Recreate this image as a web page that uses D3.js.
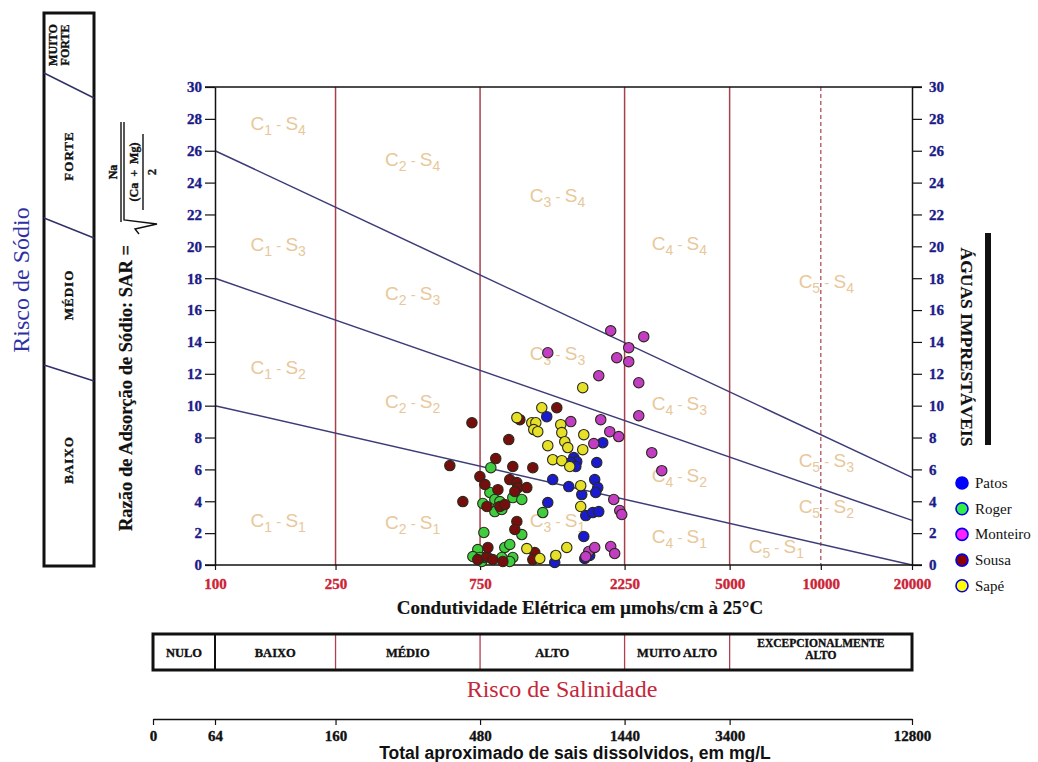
<!DOCTYPE html>
<html>
<head>
<meta charset="utf-8">
<script src="https://cdn.jsdelivr.net/npm/d3@7"></script>
<style>
  html, body { margin: 0; padding: 0; background: #fff; }
  svg { display: block; }
</style>
</head>
<body>
<svg id="chart" width="1038" height="762"></svg>
<script>
// ---- Axis ticks and class boundaries ----
const ecTicks = [100, 250, 750, 2250, 5000, 10000, 20000];       // µmhos/cm
const sarTicks = d3.range(0, 31, 2);
const ecClassBounds = [250, 750, 2250, 5000];                      // C1|C2|C3|C4|C5
const ecDashed = [10000];
const tdsTicks = [0, 64, 160, 480, 1440, 3400, 12800];             // mg/L
const salinityClasses = ["NULO", "BAIXO", "MÉDIO", "ALTO", "MUITO ALTO", "EXCEPCIONALMENTE ALTO"];
const sodiumClasses = ["BAIXO", "MÉDIO", "FORTE", "MUITO FORTE"];

// Sodium hazard boundaries: [EC, SAR] at both ends
const lineS1S2 = [[100, 10], [20000, 0]];
const lineS2S3 = [[100, 18], [20000, 2.8]];
const lineS3S4 = [[100, 26], [20000, 5.5]];

// Zone labels: [C index, S index, EC anchor, SAR anchor]
const zoneLabels = [
  ["1", "4", 131, 27.3], ["2", "4", 364, 25.05], ["3", "4", 1095, 22.8], ["4", "4", 2766, 19.78], ["5", "4", 8448, 17.4],
  ["1", "3", 131, 19.72], ["2", "3", 364, 16.65], ["3", "3", 1095, 12.88], ["4", "3", 2766, 9.75], ["5", "3", 8448, 6.18],
  ["1", "2", 131, 12.0], ["2", "2", 364, 9.87], ["4", "2", 2766, 5.24], ["5", "2", 8448, 3.29],
  ["1", "1", 131, 2.41], ["2", "1", 364, 2.23], ["3", "1", 1095, 2.41], ["4", "1", 2766, 1.41], ["5", "1", 5779, 0.78]
];

// ---- Samples: [EC µmhos/cm, SAR] ----
const patos = [
  [1245, 9.31], [1906, 7.68], [1529, 6.74], [1564, 6.49], [1495, 6.43], [1553, 6.18], [1821, 6.43],
  [1303, 5.36], [1472, 4.92], [1793, 5.36], [1835, 4.86], [1807, 4.55], [1625, 4.42], [1255, 3.92],
  [1675, 3.10], [1766, 3.29], [1849, 3.35], [1650, 1.79], [1662, 0.41], [1726, 0.60], [1323, 0.16]
];
const roger = [
  [814, 6.11], [808, 4.55], [839, 4.11], [872, 3.98], [859, 3.61], [839, 3.35], [885, 3.48], [962, 4.23],
  [1030, 4.11], [766, 3.86], [1208, 3.29], [1030, 1.91], [772, 2.04], [737, 0.97], [710, 0.53], [760, 0.22],
  [778, 0.47], [905, 1.10], [940, 1.29], [962, 0.47], [940, 0.22], [885, 0.47], [749, 0.47]
];
const monteiro = [
  [2025, 14.70], [2603, 14.33], [2322, 13.64], [1255, 13.32], [2120, 13.01], [2322, 12.76], [1849, 11.88],
  [2506, 11.44], [2506, 9.37], [1877, 9.12], [1495, 9.00], [2010, 8.37], [2152, 8.06], [1780, 7.62],
  [2766, 7.05], [2985, 5.92], [2072, 4.11], [2169, 3.42], [2202, 3.17], [1713, 0.85], [1793, 1.10],
  [2025, 1.16], [2087, 0.72], [1675, 0.53]
];
const sousa = [
  [705, 8.93], [1015, 9.12], [1344, 9.87], [933, 7.87], [596, 6.24], [845, 6.68], [962, 6.18], [1120, 6.11],
  [749, 5.55], [778, 5.05], [940, 5.36], [992, 5.17], [999, 4.86], [1070, 4.86], [977, 4.61], [859, 4.73],
  [658, 3.98], [790, 3.67], [872, 3.67], [905, 3.79], [992, 2.73], [977, 2.23], [737, 0.34], [790, 0.53],
  [826, 0.34], [892, 0.22], [1137, 0.78], [1120, 0.34], [796, 1.10]
];
const sape = [
  [1637, 11.13], [1199, 9.87], [992, 9.25], [1111, 8.93], [1146, 8.93], [1128, 8.50], [1163, 8.37],
  [1385, 8.81], [1396, 8.31], [1650, 8.18], [1255, 7.49], [1428, 7.74], [1461, 7.37], [1637, 7.24],
  [1303, 6.61], [1396, 6.55], [1483, 6.18], [1612, 4.98], [1612, 3.67], [1450, 1.10], [1334, 0.60],
  [1070, 1.03], [1181, 0.41]
];

const seriesNames = ["Patos", "Roger", "Monteiro", "Sousa", "Sapé"];
const seriesData = [patos, roger, monteiro, sousa, sape];
const pointFill = ["#1a1ad0", "#3fcc3f", "#c23cc4", "#760e0e", "#e6e028"];
const legendFill = ["#0000ff", "#33ee44", "#ff22ff", "#8b0000", "#ffff00"];

// ---- Layout ----
const SERIF = "'Liberation Serif', 'Times New Roman', serif";
const SANS = "'Liberation Sans', Arial, sans-serif";
const plot = { left: 215, right: 912, top: 87, bottom: 565 };

const svg = d3.select("#chart");
svg.append("rect").attr("width", 1038).attr("height", 762).attr("fill", "#fff");

const x = d3.scaleLog().domain([100, 20000]).range([plot.left, plot.right]);
const y = d3.scaleLinear().domain([0, 30]).range([plot.bottom, plot.top]);

// TDS scale pinned to the conductivity class boundaries
const tdsScale = d3.scaleLinear()
  .domain(tdsTicks)
  .range([153, x(100), x(250), x(750), x(2250), x(5000), x(20000)]);

// heavy serif text helper
const heavy = (sel, size, color) => sel
  .style("font-family", SERIF).style("font-weight", "bold").style("font-size", size)
  .attr("fill", color).attr("stroke", color).attr("stroke-width", 0.35);

// ---- Salinity class verticals ----
const g = svg.append("g");
g.selectAll("line.cb").data(ecClassBounds).join("line")
  .attr("x1", d => x(d)).attr("x2", d => x(d))
  .attr("y1", y(30)).attr("y2", y(0))
  .attr("stroke", "#a8404c").attr("stroke-width", 1.5);
g.selectAll("line.cd").data(ecDashed).join("line")
  .attr("x1", d => x(d)).attr("x2", d => x(d))
  .attr("y1", y(30)).attr("y2", y(0))
  .attr("stroke", "#a8404c").attr("stroke-width", 1.2)
  .attr("stroke-dasharray", "4,3");

// ---- Zone labels ----
zoneLabels.forEach(([c, s, ec, sar]) => {
  const t = g.append("text")
    .attr("x", x(ec)).attr("y", y(sar))
    .attr("fill", "#e8c89a")
    .style("font-family", SANS).style("font-size", "19px");
  t.append("tspan").text("C");
  t.append("tspan").attr("dy", 5).style("font-size", "14px").text(c);
  t.append("tspan").attr("dy", -5).style("font-size", "15px").text(" - ");
  t.append("tspan").text("S");
  t.append("tspan").attr("dy", 5).style("font-size", "14px").text(s);
});

// ---- Sodium hazard lines ----
const hazLine = d3.line().x(d => x(d[0])).y(d => y(d[1]));
[lineS1S2, lineS2S3, lineS3S4].forEach(l => {
  g.append("path").attr("d", hazLine(l))
    .attr("fill", "none").attr("stroke", "#3c3c78").attr("stroke-width", 1.5);
});

// ---- Frame lines ----
g.append("line").attr("x1", 205).attr("x2", 922).attr("y1", y(30)).attr("y2", y(30))
  .attr("stroke", "#111").attr("stroke-width", 1.5);
g.append("line").attr("x1", 205).attr("x2", 922).attr("y1", y(0)).attr("y2", y(0))
  .attr("stroke", "#111").attr("stroke-width", 1.5);

// ---- Axes ----
function styleAxis(sel, color, size) {
  sel.select(".domain").attr("stroke", "#111").attr("stroke-width", 1.5);
  sel.selectAll(".tick line").attr("stroke", "#111").attr("stroke-width", 1.2);
  sel.selectAll(".tick text").call(heavy, size, color);
}

const yLeft = svg.append("g").attr("transform", `translate(${plot.left},0)`)
  .call(d3.axisLeft(y).tickValues(sarTicks).tickSize(10).tickSizeOuter(0).tickPadding(3));
styleAxis(yLeft, "#1c1c88", "15px");

const yRight = svg.append("g").attr("transform", `translate(${plot.right},0)`)
  .call(d3.axisRight(y).tickValues(sarTicks).tickSize(10).tickSizeOuter(0).tickPadding(7));
styleAxis(yRight, "#1c1c88", "15px");

const xAxis = svg.append("g").attr("transform", `translate(0,${plot.bottom})`)
  .call(d3.axisBottom(x).tickValues(ecTicks).tickFormat(d3.format("d")).tickSize(5).tickSizeOuter(0).tickPadding(8));
styleAxis(xAxis, "#cc2236", "15px");
xAxis.select(".domain").remove();

svg.append("text")
  .attr("x", 580).attr("y", 614).attr("text-anchor", "middle")
  .call(heavy, "19px", "#111")
  .attr("stroke-width", 0.2)
  .text("Condutividade Elétrica em µmohs/cm à 25°C");

// ---- Points ----
const pts = svg.append("g");
seriesData.forEach((data, i) => {
  pts.selectAll(null).data(data).join("circle")
    .attr("cx", d => x(d[0])).attr("cy", d => y(d[1]))
    .attr("r", 5.2)
    .attr("fill", pointFill[i])
    .attr("stroke", "#2a2a1a").attr("stroke-width", 1.1);
});

// ---- Legend ----
const leg = svg.append("g").attr("transform", "translate(962,483)");
seriesNames.forEach((name, i) => {
  const row = leg.append("g").attr("transform", `translate(0,${i * 25.7})`);
  row.append("circle").attr("r", 6).attr("fill", legendFill[i])
    .attr("stroke", "#0000ee").attr("stroke-width", 1.6);
  row.append("text").attr("x", 13).attr("y", 5)
    .style("font-family", SERIF).style("font-size", "15px").attr("fill", "#111")
    .text(name);
});

// ---- Salinity hazard band ----
const band = { top: 634, bottom: 670 };
const bandX = tdsTicks.map(d => tdsScale(d));
const sal = svg.append("g");
sal.selectAll("line.div").data(bandX.slice(2, 6)).join("line")
  .attr("x1", d => d).attr("x2", d => d)
  .attr("y1", band.top).attr("y2", band.bottom)
  .attr("stroke", "#b04050").attr("stroke-width", 1.3);
sal.append("line").attr("x1", bandX[1]).attr("x2", bandX[1])
  .attr("y1", band.top).attr("y2", band.bottom)
  .attr("stroke", "#111").attr("stroke-width", 2);
sal.append("rect")
  .attr("x", bandX[0]).attr("y", band.top)
  .attr("width", bandX[6] - bandX[0]).attr("height", band.bottom - band.top)
  .attr("fill", "none").attr("stroke", "#111").attr("stroke-width", 3);
salinityClasses.forEach((label, i) => {
  const cx = (bandX[i] + bandX[i + 1]) / 2;
  const words = label === "EXCEPCIONALMENTE ALTO" ? ["EXCEPCIONALMENTE", "ALTO"] : [label];
  const two = words.length > 1;
  words.forEach((w, k) => {
    sal.append("text").attr("x", cx).attr("y", (two ? 647 : 657) + k * 12)
      .attr("text-anchor", "middle")
      .call(heavy, two ? "11.5px" : "12.5px", "#111")
      .text(w);
  });
});
svg.append("text")
  .attr("x", 562).attr("y", 697).attr("text-anchor", "middle")
  .style("font-family", SERIF).style("font-size", "24px")
  .attr("fill", "#c4283a").text("Risco de Salinidade");

// ---- TDS axis ----
const tdsAxis = svg.append("g").attr("transform", "translate(0,719)")
  .call(d3.axisBottom(tdsScale).tickValues(tdsTicks).tickFormat(d3.format("d")).tickSize(6).tickSizeOuter(0).tickPadding(5));
styleAxis(tdsAxis, "#111", "15px");
svg.append("text")
  .attr("x", 575).attr("y", 759).attr("text-anchor", "middle")
  .style("font-family", SANS).style("font-weight", "bold").style("font-size", "17.5px")
  .attr("fill", "#111").text("Total aproximado de sais dissolvidos, em mg/L");

// ---- Sodium hazard column (left) ----
const sod = svg.append("g");
const col = { x0: 44, x1: 94, y0: 13, y1: 566 };
sod.append("rect").attr("x", col.x0).attr("y", col.y0)
  .attr("width", col.x1 - col.x0).attr("height", col.y1 - col.y0)
  .attr("fill", "none").attr("stroke", "#111").attr("stroke-width", 3);
[[73, 98], [218, 238], [365, 381]].forEach(([a, b]) => {
  sod.append("line").attr("x1", col.x0).attr("y1", a).attr("x2", col.x1).attr("y2", b)
    .attr("stroke", "#303068").attr("stroke-width", 1.5);
});
const sodLabelPos = [[73, 460], [73, 295], [73, 156]];
sodiumClasses.slice(0, 3).forEach((label, i) => {
  sod.append("text")
    .attr("transform", `translate(${sodLabelPos[i][0]},${sodLabelPos[i][1]}) rotate(-90)`)
    .attr("text-anchor", "middle")
    .call(heavy, "13px", "#111")
    .style("letter-spacing", "1px")
    .text(label);
});
sodiumClasses[3].split(" ").forEach((w, k) => {
  sod.append("text")
    .attr("transform", `translate(${57 + k * 12},45) rotate(-90)`)
    .attr("text-anchor", "middle")
    .call(heavy, "12px", "#111")
    .text(w);
});
svg.append("text")
  .attr("transform", "translate(29,280) rotate(-90)")
  .attr("text-anchor", "middle")
  .style("font-family", SERIF).style("font-size", "24px")
  .attr("fill", "#3030a6").text("Risco de Sódio");

// ---- SAR definition ----
svg.append("text")
  .attr("transform", "translate(132,388) rotate(-90)")
  .attr("text-anchor", "middle")
  .call(heavy, "18.5px", "#111")
  .attr("stroke-width", 0.2)
  .text("Razão de Adsorção de Sódio: SAR =");

const f = svg.append("g").attr("transform", "translate(123,172) rotate(-90)");
const fStyle = sel => sel.call(heavy, "12px", "#111").attr("text-anchor", "middle");
f.append("text").attr("x", 0).attr("y", -6).call(fStyle).text("Na");
f.append("line").attr("x1", -50).attr("x2", 50).attr("y1", -2).attr("y2", -2)
  .attr("stroke", "#111").attr("stroke-width", 1.4);
f.append("path").attr("d", "M-62,16 L-57,12 L-52,34 L-48,1 L50,1")
  .attr("fill", "none").attr("stroke", "#111").attr("stroke-width", 1.4);
f.append("text").attr("x", 0).attr("y", 15).call(fStyle).attr("xml:space", "preserve").text("(Ca  +  Mg)");
f.append("line").attr("x1", -38).attr("x2", 38).attr("y1", 20).attr("y2", 20)
  .attr("stroke", "#111").attr("stroke-width", 1.4);
f.append("text").attr("x", 0).attr("y", 33).call(fStyle).text("2");

// ---- Unsuitable-water marker (right) ----
svg.append("text")
  .attr("transform", "translate(961,347) rotate(90)")
  .attr("text-anchor", "middle")
  .call(heavy, "17.5px", "#111")
  .attr("stroke-width", 0.2)
  .text("ÁGUAS IMPRESTÁVEIS");
svg.append("rect").attr("x", 985).attr("y", 233).attr("width", 6).attr("height", 212).attr("fill", "#111");
</script>
</body>
</html>
